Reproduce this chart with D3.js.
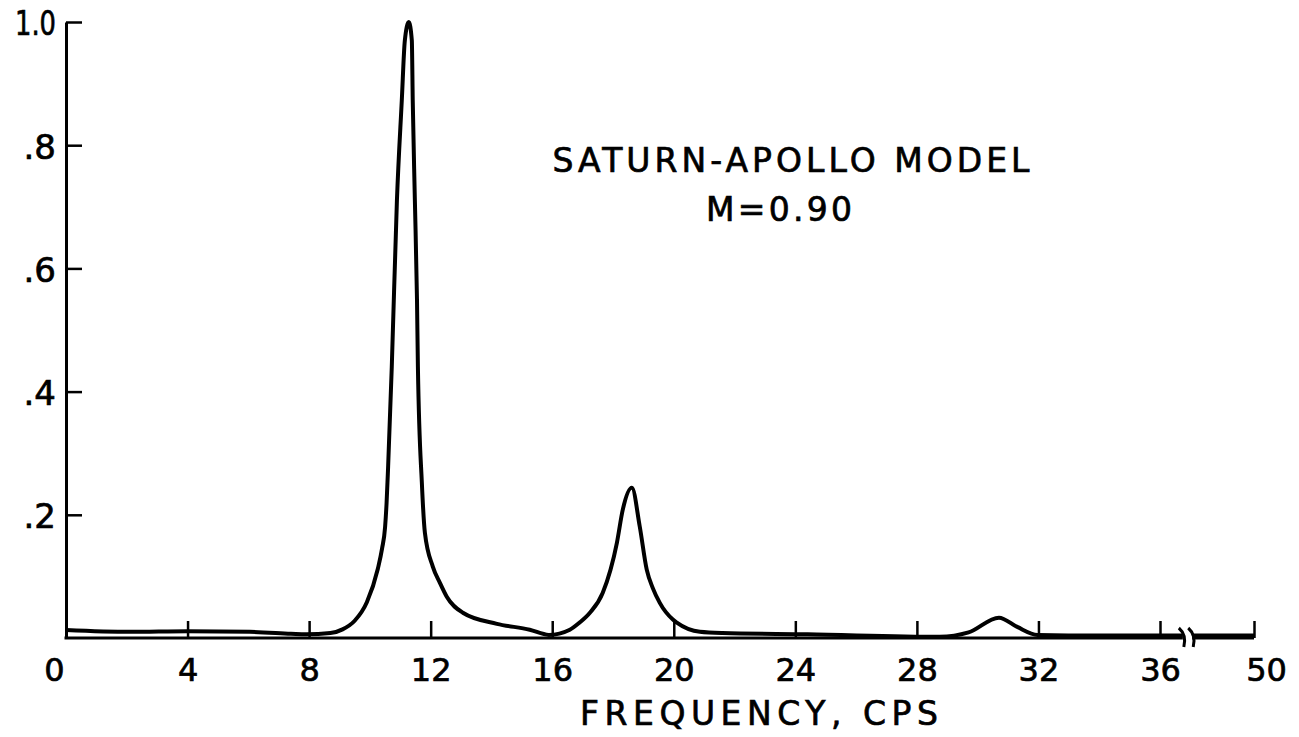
<!DOCTYPE html>
<html>
<head>
<meta charset="utf-8">
<script src="https://cdn.jsdelivr.net/npm/d3@7/dist/d3.min.js"></script>
<style>
    body { margin: 0; background: #fff; }
    text { font-family: "DejaVu Sans", sans-serif; fill: #000; stroke: #000; stroke-width: 0.7px; }
</style>
</head>
<body>
<div id="chart"></div>
<script>
/* response spectrum, Saturn-Apollo model */

// values: frequency (cps) and normalized response
var freq = [0, 2.1, 4.0, 6.05, 7.4, 7.9, 8.7, 9.1, 9.5, 9.9, 10.26, 10.4, 10.5, 10.55, 10.6, 10.72,
            10.89, 11.05, 11.15, 11.28, 11.38, 11.41, 11.48, 11.55, 11.58, 11.71, 11.81, 12.07,
            12.3, 12.53, 13.06, 14.18, 15.26, 15.89, 16.58, 16.9, 17.24, 17.66, 18.13,
            18.32, 18.62, 18.88, 19.11, 19.31, 19.54, 19.97, 20.1, 20.86, 21.6, 24.4, 28.75, 29.7,
            30.7, 31.3, 31.97, 34, 36, 40, 44, 50]
var response = [0.013, 0.010, 0.011, 0.010, 0.007, 0.006, 0.008, 0.014, 0.028, 0.058, 0.112,
                0.145, 0.18, 0.22, 0.278, 0.440, 0.711, 0.873, 0.97, 1.0, 0.97, 0.873, 0.711,
                0.549, 0.440, 0.252, 0.171, 0.116, 0.090, 0.067, 0.041, 0.023, 0.0135, 0.005,
                0.0135, 0.025, 0.041, 0.073, 0.155, 0.208, 0.244, 0.181, 0.111, 0.081, 0.057,
                0.030, 0.025, 0.010, 0.008, 0.006, 0.002, 0.009, 0.033, 0.018, 0.005, 0.004,
                0.004, 0.004, 0.004, 0.004]

var xTickValues = [0, 4, 8, 12, 16, 20, 24, 28, 32, 36, 50]
var yTickValues = [0.2, 0.4, 0.6, 0.8, 1.0]
var yTickLabels = [".2", ".4", ".6", ".8", "1.0"]
var titleLines = ["SATURN-APOLLO  MODEL", "M=0.90"]
var xTitle = "FREQUENCY,  CPS"
var axisBreak = [39.4, 40.8]   // gap in the frequency axis between 36 and 50

var width = 1299, height = 737

var svg = d3.select("#chart")
    .append("svg")
    .attr("width", width)
    .attr("height", height)

// the axis is squeezed after 36 cps, so a piecewise scale
var scale_x = d3.scaleLinear()
    .domain([0, 36, 50])
    .range([66, 1160, 1254])

var scale_y = d3.scaleLinear()
    .domain([0, 1])
    .range([638, 22])

// y axis, ticks pointing inward
var yAxis = svg.append("g")
    .attr("transform", "translate(" + scale_x(0) + ",0)")
    .call(d3.axisLeft(scale_y)
        .tickValues(yTickValues)
        .tickSize(-16)
        .tickSizeOuter(0)
        .tickPadding(10)
        .tickFormat((d, i) => yTickLabels[i]))
yAxis.select(".domain").attr("stroke-width", 3)
yAxis.selectAll(".tick line").attr("stroke-width", 2.5)
yAxis.selectAll(".tick text")
    .style("font-size", "34px")
    .attr("font-family", null)
    .attr("dy", "0.38em")
    .attr("textLength", d => d == 1 ? 41 : null)
    .attr("lengthAdjust", "spacingAndGlyphs")

// x axis, ticks pointing up, domain drawn by hand for the break
var xAxis = svg.append("g")
    .attr("transform", "translate(0," + scale_y(0) + ")")
    .call(d3.axisBottom(scale_x)
        .tickValues(xTickValues)
        .tickSize(-17)
        .tickPadding(20)
        .tickFormat(d3.format("d")))
xAxis.select(".domain").remove()
xAxis.selectAll(".tick line").attr("stroke-width", 2.5)
xAxis.selectAll(".tick text")
    .style("font-size", "32px")
    .attr("font-family", null)
    .attr("dx", d => d == 0 ? "-12px" : d == 50 ? "12px" : 0)
xAxis.selectAll(".tick").filter(d => d == 0).select("line").remove()

svg.selectAll("line.baseline")
    .data([[0, axisBreak[0]], [axisBreak[1], 50]])
    .enter()
    .append("line")
    .attr("class", "baseline")
    .attr("x1", d => scale_x(d[0]) - (d[0] == 0 ? 1.5 : 0))
    .attr("x2", d => scale_x(d[1]))
    .attr("y1", scale_y(0))
    .attr("y2", scale_y(0))
    .attr("stroke", "black")
    .attr("stroke-width", 3)

// break marks
svg.selectAll("path.brk")
    .data(axisBreak)
    .enter()
    .append("path")
    .attr("class", "brk")
    .attr("d", d => {
        var bx = scale_x(d), by = scale_y(0)
        return "M" + (bx - 4) + "," + (by - 10) + " Q" + (bx + 4) + "," + (by - 3) + " " + (bx + 1) + "," + (by + 9)
    })
    .attr("fill", "none")
    .attr("stroke", "black")
    .attr("stroke-width", 3)

// clip the curve at the break
var clip = svg.append("clipPath").attr("id", "brkclip")
clip.append("rect")
    .attr("x", 0).attr("y", 0)
    .attr("width", scale_x(axisBreak[0]))
    .attr("height", height)
clip.append("rect")
    .attr("x", scale_x(axisBreak[1])).attr("y", 0)
    .attr("width", width - scale_x(axisBreak[1]))
    .attr("height", height)

var points = freq.map((f, i) => [f, response[i]])

svg.append("path")
    .datum(points)
    .attr("clip-path", "url(#brkclip)")
    .attr("fill", "none")
    .attr("stroke", "black")
    .attr("stroke-width", 4)
    .attr("stroke-linejoin", "round")
    .attr("d", d3.line()
        .curve(d3.curveMonotoneX)
        .x(d => scale_x(d[0]))
        .y(d => scale_y(d[1])))

// titles
svg.append("text")
    .attr("x", 791).attr("y", 172)
    .attr("text-anchor", "middle")
    .style("font-size", "33px")
    .attr("textLength", 477)
    .attr("lengthAdjust", "spacing")
    .text(titleLines[0])

svg.append("text")
    .attr("x", 779).attr("y", 221)
    .attr("text-anchor", "middle")
    .style("font-size", "33px")
    .attr("textLength", 146)
    .attr("lengthAdjust", "spacing")
    .text(titleLines[1])

svg.append("text")
    .attr("x", 759).attr("y", 725)
    .attr("text-anchor", "middle")
    .style("font-size", "33px")
    .attr("textLength", 358)
    .attr("lengthAdjust", "spacing")
    .text(xTitle)
</script>
</body>
</html>
